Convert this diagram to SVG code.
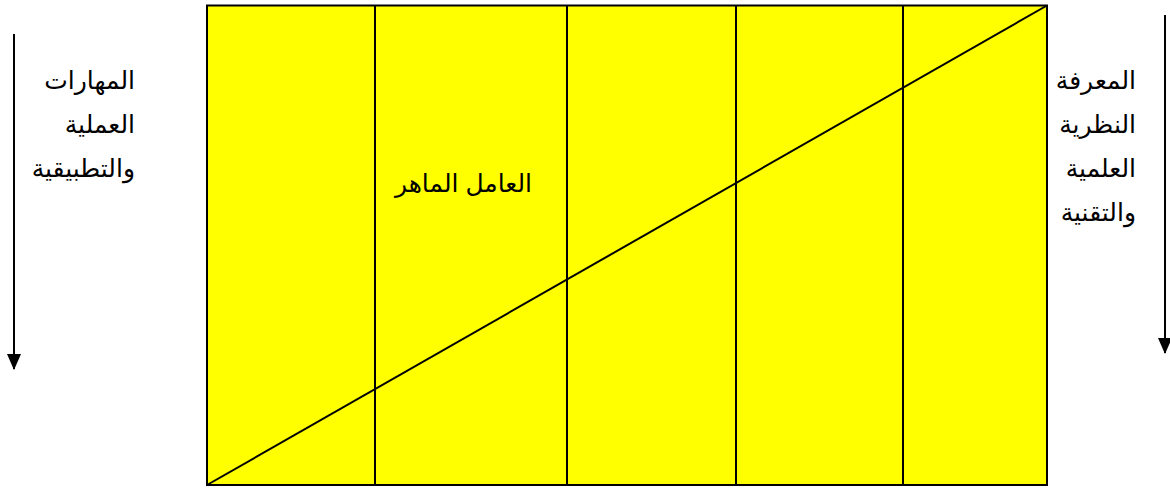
<svg xmlns="http://www.w3.org/2000/svg" width="1170" height="488" viewBox="0 0 1170 488">
<style>
.ln{stroke:#000;stroke-width:2;fill:none}
.t{font-family:"Liberation Sans","DejaVu Sans",sans-serif;font-size:25px;fill:#000;direction:rtl}
</style>
<defs>
<marker id="ah" markerWidth="16" markerHeight="14" refX="15" refY="7" orient="auto" markerUnits="userSpaceOnUse" viewBox="0 0 16 14">
<path d="M0,0 L16,7 L0,14 Z" fill="#000"/>
</marker>
</defs>
<rect width="1170" height="488" fill="#fff"/>
<g id="grid">
<rect x="207" y="5.5" width="840" height="479.5" fill="#ffff00" stroke="#000" stroke-width="2"/>
<line class="ln" x1="375" y1="5.5" x2="375" y2="485"/>
<line class="ln" x1="567" y1="5.5" x2="567" y2="485"/>
<line class="ln" x1="736" y1="5.5" x2="736" y2="485"/>
<line class="ln" x1="903" y1="5.5" x2="903" y2="485"/>
<line class="ln" x1="207" y1="485" x2="1047" y2="5.5"/>
</g>
<g id="label-center">
<text class="t" x="532" y="192" text-anchor="start">العامل الماهر</text>
</g>
<g id="label-left">
<text class="t" x="135" y="89" text-anchor="start">المهارات</text>
<text class="t" x="135" y="133" text-anchor="start">العملية</text>
<text class="t" x="135" y="177" text-anchor="start">والتطبيقية</text>
</g>
<g id="label-right">
<text class="t" x="1136" y="89" text-anchor="start">المعرفة</text>
<text class="t" x="1136" y="133" text-anchor="start">النظرية</text>
<text class="t" x="1136" y="177" text-anchor="start">العلمية</text>
<text class="t" x="1136" y="221" text-anchor="start">والتقنية</text>
</g>
<g id="connectors">
<line x1="14" y1="34" x2="14" y2="369" stroke="#000" stroke-width="2" marker-end="url(#ah)"/>
<line x1="1165" y1="15" x2="1165" y2="353" stroke="#000" stroke-width="2" marker-end="url(#ah)"/>
</g>
</svg>
